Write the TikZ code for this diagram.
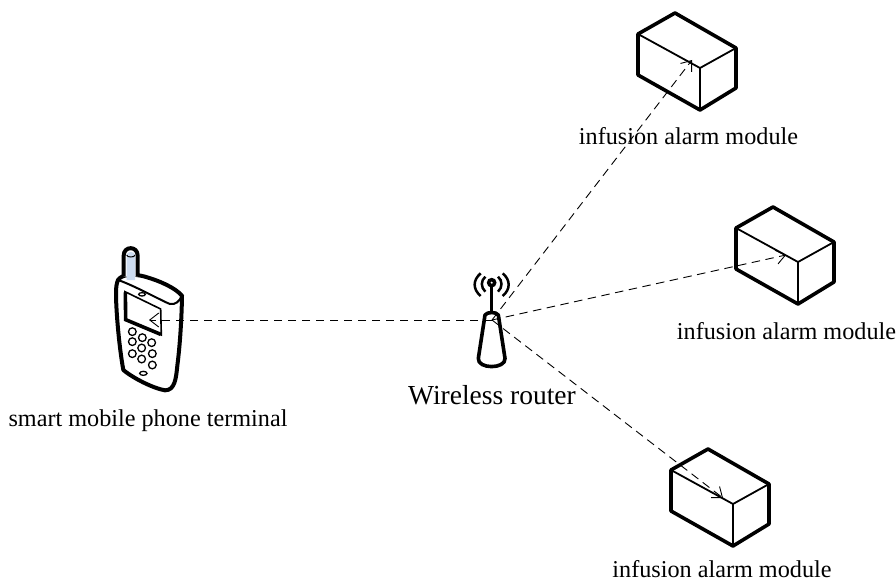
\documentclass[tikz,border=0pt]{standalone}
\usepackage{fontspec}
\setmainfont{Liberation Serif}
\usetikzlibrary{arrows.meta}
\definecolor{stubblue}{RGB}{205,220,240}
\tikzset{
  outer/.style={line width=3.6pt,line join=round},
  inner/.style={line width=1.8pt,line join=round},
  link/.style={-{Straight Barb[length=9pt,width=14pt]},dash pattern=on 8.5pt off 5.5pt,line width=0.9pt},
  caption/.style={font=\fontsize{24.2pt}{28pt}\selectfont,inner sep=0pt,anchor=base},
  module/.pic={
    \draw[outer] (0,0) -- (-37,21) -- (-37,62) -- (25,97) -- (61,75) -- (61,35) -- cycle;
    \draw[inner] (-37,21) -- (25,55) -- (61,35);
    \draw[inner] (25,55) -- (25,97);
  }
}
\begin{document}
\begin{tikzpicture}[x=1pt,y=-1pt]
  \useasboundingbox (0,0) rectangle (896,583);

  % boxes
  \pic at (675,13) {module};
  \pic at (773,207) {module};
  \pic at (708,449) {module};

  % phone
  \begin{scope}[shift={(90,235)},scale=1/3,x=1pt,y=-1pt]
    \draw[line width=4pt,line join=round,fill=white] (84,135) .. controls (95,118) and (130,115) .. (165,125)
      .. controls (210,138) and (255,158) .. (276,182)
      .. controls (275,250) and (270,330) .. (262,392)
      .. controls (258,430) and (255,466) .. (225,466)
      .. controls (190,460) and (130,430) .. (100,405)
      .. controls (88,340) and (78,230) .. (78,175)
      .. controls (78,155) and (80,145) .. (84,135) -- cycle;
    \draw[line width=4pt,fill=white] (101,125) -- (101,62) .. controls (101,32) and (143,32) .. (143,62) -- (143,125);
    \fill[stubblue] (110,135) -- (110,60) .. controls (110,48) and (135,48) .. (135,60) -- (135,135) -- cycle;
    \draw[line width=1pt] (110,60) .. controls (110,68) and (135,68) .. (135,60);
    \draw[line width=2pt] (84,135) .. controls (130,150) and (220,200) .. (240,207) .. controls (255,210) and (268,200) .. (276,182);
    \draw[line width=1.6pt] (105,170) -- (212,222) -- (214,300) -- (106,255) -- cycle;
    \draw[line width=3.6pt] (106,172) -- (107,254) -- (212,298);
    \draw[line width=1.3pt] (156,178) ellipse (10pt and 5pt);
    \draw[line width=1.3pt] (160,415) ellipse (11pt and 6pt);
    \foreach \kx/\ky in {127/290,157/308,185/323,127/320,155/339,187/356,127/356,155/372,187/390}
      \draw[line width=1.3pt] (\kx,\ky) circle (11.5pt);
  \end{scope}

  % router
  \begin{scope}[shift={(450,260)},scale=1/3,x=1pt,y=-1pt]
    \draw[line width=3.6pt,fill=white,line join=round] (105,165) .. controls (112,155) and (138,155) .. (145,165)
      -- (165,295) .. controls (168,328) and (82,328) .. (85,295) -- cycle;
    \draw[line width=3.6pt] (125,70) -- (125,158);
    \draw[line width=3.5pt,fill=white] (125,68) circle (9pt);
    \draw[line width=2.5pt] (92,40) .. controls (68,60) and (68,88) .. (92,108);
    \draw[line width=2.5pt] (106,50) .. controls (92,62) and (92,82) .. (106,95);
    \draw[line width=2.5pt] (158,40) .. controls (182,60) and (182,88) .. (158,108);
    \draw[line width=2.5pt] (144,50) .. controls (158,62) and (158,82) .. (144,95);
  \end{scope}

  % hub and link ends
  \coordinate (hub) at (492,320);
  \coordinate (phone) at (149,320);
  \coordinate (m1) at (692,60);
  \coordinate (m2) at (786,255);
  \coordinate (m3) at (723,498);

  \draw[link] (hub) -- (phone);
  \draw[link] (hub) -- (m1);
  \draw[link] (hub) -- (m2);
  \draw[link] (hub) -- (m3);

  % labels
  \node[caption] (phonetext) at (148,426) {smart mobile phone terminal};
  \node[caption,font=\fontsize{27.5pt}{31pt}\selectfont] (routertext) at (492,404) {Wireless router};
  \node[caption] (m1text) at (688.5,144.5) {infusion alarm module};
  \node[caption] (m2text) at (786.5,339) {infusion alarm module};
  \node[caption] (m3text) at (722,577.5) {infusion alarm module};
\end{tikzpicture}
\end{document}
